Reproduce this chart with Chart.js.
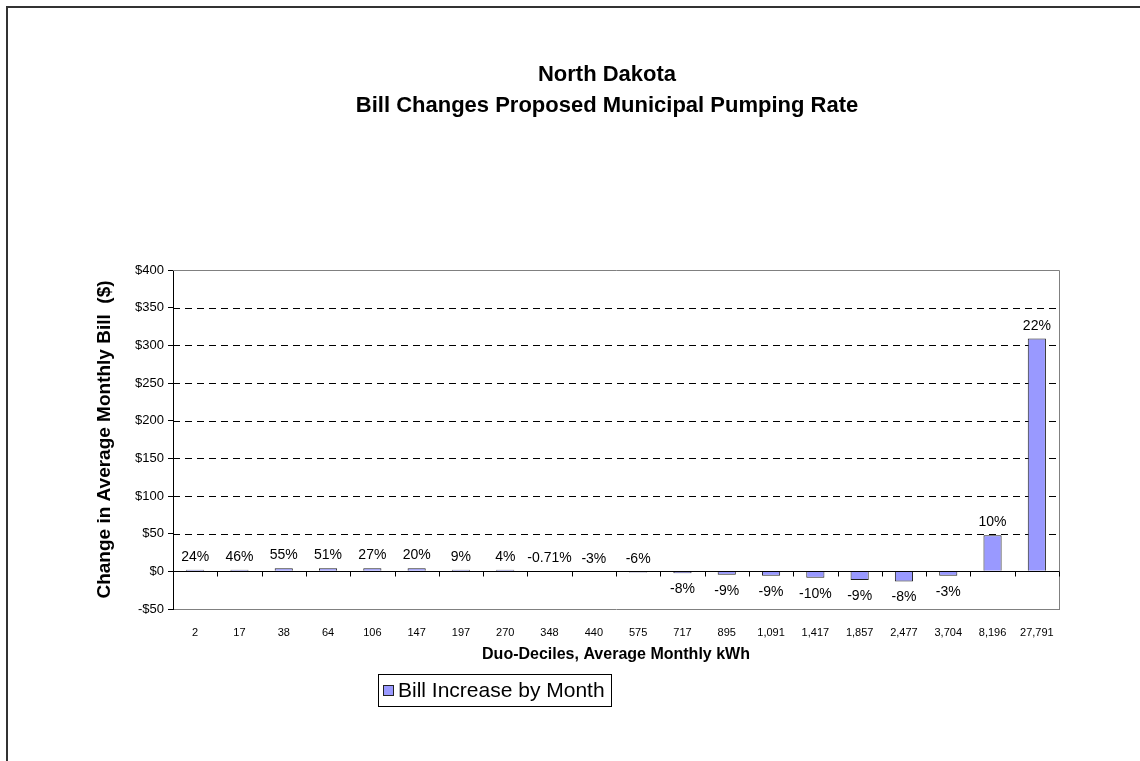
<!DOCTYPE html>
<html>
<head>
<meta charset="utf-8">
<script src="https://cdn.jsdelivr.net/npm/chart.js@4.4.1/dist/chart.umd.min.js"></script>
<style>
  html, body { margin: 0; padding: 0; background: #ffffff; }
  #wrap { width: 1140px; height: 761px; }
</style>
</head>
<body>
<div id="wrap"><canvas id="c" width="1140" height="761"></canvas></div>
<script>
// ---- data ----
const titleLines = ['North Dakota', 'Bill Changes Proposed Municipal Pumping Rate'];
const categories = ['2','17','38','64','106','147','197','270','348','440','575','717','895','1,091','1,417','1,857','2,477','3,704','8,196','27,791'];
const billChange = [2.0, 2.0, 4.0, 4.0, 4.0, 4.0, 2.0, 2.0, -0.2, -0.3, -1.5, -2.6, -4.4, -5.8, -8.6, -11.5, -13.5, -5.8, 48, 309];
const pctLabels = ['24%','46%','55%','51%','27%','20%','9%','4%','-0.71%','-3%','-6%','-8%','-9%','-9%','-10%','-9%','-8%','-3%','10%','22%'];
const seriesName = 'Bill Increase by Month';
const xTitle = 'Duo-Deciles, Average Monthly kWh';
const yTitle = 'Change in Average Monthly Bill  ($)';
const yMin = -50, yMax = 400, yStep = 50;

const FONT = 'Arial, "Liberation Sans", sans-serif';
const BAR_FILL = '#9999FF';
const BAR_EDGE = '#222222';

const decor = {
  id: 'decor',
  beforeDatasetsDraw(chart) {
    const ctx = chart.ctx, a = chart.chartArea, y = chart.scales.y;
    ctx.save();
    ctx.strokeStyle = '#000';
    ctx.lineWidth = 1;
    ctx.setLineDash([7, 5]);
    for (let v = yMin + yStep; v < yMax; v += yStep) {
      if (v === 0) continue;
      const py = Math.round(y.getPixelForValue(v)) + 0.5;
      ctx.beginPath(); ctx.moveTo(a.left, py); ctx.lineTo(a.right, py); ctx.stroke();
    }
    ctx.setLineDash([]);
    ctx.strokeStyle = '#808080';
    ctx.beginPath();
    ctx.moveTo(a.left, Math.round(a.top) + 0.5); ctx.lineTo(Math.round(a.right) + 0.5, Math.round(a.top) + 0.5);
    ctx.lineTo(Math.round(a.right) + 0.5, a.bottom);
    ctx.stroke();
    ctx.restore();
  },
  afterDatasetsDraw(chart) {
    const ctx = chart.ctx, a = chart.chartArea, y = chart.scales.y, x = chart.scales.x;
    ctx.save();
    const py0 = Math.round(y.getPixelForValue(0)) + 0.5;
    ctx.strokeStyle = '#000';
    ctx.lineWidth = 1;
    ctx.beginPath(); ctx.moveTo(a.left, py0); ctx.lineTo(a.right, py0); ctx.stroke();
    const n = categories.length;
    const step = (a.right - a.left) / n;
    for (let i = 1; i <= n; i++) {
      const px = Math.round(x.getPixelForValue(i - 1) + step / 2) + 0.5;
      ctx.beginPath(); ctx.moveTo(px, py0); ctx.lineTo(px, py0 + 5); ctx.stroke();
    }
    ctx.fillStyle = '#000';
    ctx.font = '14px ' + FONT;
    ctx.textAlign = 'center';
    const meta = chart.getDatasetMeta(0);
    meta.data.forEach((bar, i) => {
      const v = billChange[i];
      if (v > -2) {
        ctx.textBaseline = 'alphabetic';
        ctx.fillText(pctLabels[i], bar.x, Math.min(bar.y, bar.base) - 9);
      } else {
        ctx.textBaseline = 'top';
        ctx.fillText(pctLabels[i], bar.x, Math.max(bar.y, bar.base) + 9);
      }
    });
    ctx.restore();
  },
  afterDraw(chart) {
    const ctx = chart.ctx, a = chart.chartArea;
    ctx.save();
    ctx.strokeStyle = '#333';
    ctx.lineWidth = 2;
    ctx.beginPath(); ctx.moveTo(7, 761); ctx.lineTo(7, 7); ctx.lineTo(1140, 7); ctx.stroke();
    ctx.fillStyle = '#000';
    ctx.textAlign = 'center';
    ctx.textBaseline = 'middle';
    ctx.font = 'bold 22px ' + FONT;
    ctx.fillText(titleLines[0], 607, 75);
    ctx.fillText(titleLines[1], 607, 106);
    ctx.font = 'bold 16px ' + FONT;
    ctx.fillText(xTitle, (a.left + a.right) / 2, 655);
    ctx.save();
    ctx.translate(105, (a.top + a.bottom) / 2);
    ctx.rotate(-Math.PI / 2);
    ctx.font = 'bold 19px ' + FONT;
    ctx.fillText(yTitle, 0, 0);
    ctx.restore();
    ctx.lineWidth = 1;
    ctx.strokeStyle = '#000';
    ctx.strokeRect(378.5, 674.5, 233, 32);
    ctx.fillStyle = BAR_FILL;
    ctx.fillRect(383.5, 685.5, 10, 10);
    ctx.strokeStyle = BAR_EDGE;
    ctx.strokeRect(383.5, 685.5, 10, 10);
    ctx.fillStyle = '#000';
    ctx.textAlign = 'left';
    ctx.font = '21px ' + FONT;
    ctx.fillText(chart.data.datasets[0].label, 398, 691);
    ctx.restore();
  }
};

new Chart(document.getElementById('c'), {
  type: 'bar',
  data: {
    labels: categories,
    datasets: [{
      label: seriesName,
      data: billChange,
      backgroundColor: BAR_FILL,
      borderColor: BAR_EDGE,
      borderWidth: 1,
      barPercentage: 0.41,
      categoryPercentage: 1
    }]
  },
  options: {
    responsive: false,
    animation: false,
    layout: { padding: { top: 270, right: 81, bottom: 0, left: 0 } },
    plugins: { legend: { display: false }, title: { display: false }, tooltip: { enabled: false } },
    scales: {
      x: {
        grid: { display: false, drawTicks: false },
        border: { display: true, color: '#808080' },
        ticks: { font: { size: 11, family: FONT }, color: '#000', padding: 17, maxRotation: 0, autoSkip: false },
        afterFit(s) { s.height = 152; }
      },
      y: {
        min: yMin, max: yMax,
        ticks: {
          stepSize: yStep,
          font: { size: 13, family: FONT }, color: '#000', padding: 4,
          callback: v => (v < 0 ? '-$' : '$') + Math.abs(v)
        },
        grid: { drawOnChartArea: false, drawTicks: true, tickLength: 5, color: '#000' },
        border: { display: true, color: '#000' },
        afterFit(s) { s.width = 173; }
      }
    }
  },
  plugins: [decor]
});
</script>
</body>
</html>
